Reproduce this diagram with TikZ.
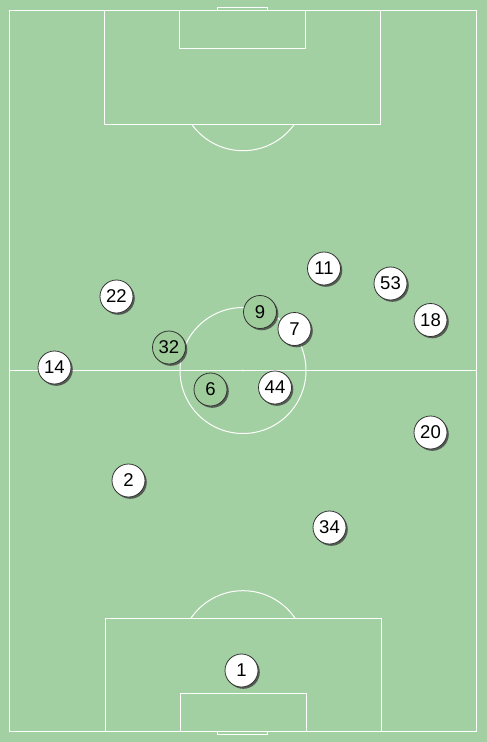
\documentclass[tikz,border=0pt]{standalone}
\usepackage{fontspec}
\setmainfont{Liberation Sans}
\usetikzlibrary{shadows}
\definecolor{pitch}{HTML}{A3D0A2}
\definecolor{teamgreen}{HTML}{9ECC9B}
\tikzset{
  fieldline/.style={draw=white, line width=1pt},
  player/.style={circle, draw=black!80, line width=0.8pt, minimum size=33pt, inner sep=0pt,
    font=\fontsize{18.5}{18.5}\selectfont,
    drop shadow={shadow xshift=1.8pt, shadow yshift=-1.8pt, opacity=0.8, fill=black!75}},
  whiteplayer/.style={player, fill=white},
  greenplayer/.style={player, fill=teamgreen}
}
\begin{document}
\begin{tikzpicture}[x=1pt, y=-1pt]
\useasboundingbox (0,0) rectangle (487,742);
\fill[pitch] (0,0) rectangle (487,742);
% outer field
\draw[fieldline] (9.5,10.5) rectangle (476.5,731);
% halfway line
\draw[fieldline] (9.5,370.5) -- (476.5,370.5);
% centre circle
\draw[fieldline] (243,370.5) circle (63);
\fill[white] (243,370.5) circle (1.2);
% top
\draw[fieldline] (217.5,10.5) -- (217.5,7.5) -- (267.5,7.5) -- (267.5,10.5);
\draw[fieldline] (104.5,10.5) rectangle (380.5,124.5);
\draw[fieldline] (179.5,10.5) rectangle (305.5,48.5);
\begin{scope}
\clip (0,124.5) rectangle (487,200);
\draw[fieldline] (243,87.7) circle (63);
\end{scope}
% bottom
\draw[fieldline] (217.5,731) -- (217.5,734.5) -- (267.5,734.5) -- (267.5,731);
\draw[fieldline] (105.5,618.5) rectangle (381.5,731);
\draw[fieldline] (180.5,693.5) rectangle (306.5,731);
\begin{scope}
\clip (0,540) rectangle (487,618.5);
\draw[fieldline] (243,653.7) circle (63);
\end{scope}
% players
\node[greenplayer] (p9) at (260,312) {9};
\node[whiteplayer] (p7) at (294.5,329) {7};
\node[whiteplayer] (p11) at (324,268.5) {11};
\node[whiteplayer] (p53) at (390.5,283.5) {53};
\node[whiteplayer] (p18) at (430.5,320) {18};
\node[whiteplayer] (p22) at (116.5,296.5) {22};
\node[greenplayer] (p32) at (169,347.5) {32};
\node[whiteplayer] (p14) at (54.5,367.5) {14};
\node[greenplayer] (p6) at (210.5,389.5) {6};
\node[whiteplayer] (p44) at (275,387.5) {44};
\node[whiteplayer] (p20) at (430.5,432.5) {20};
\node[whiteplayer] (p2) at (128.5,480.5) {2};
\node[whiteplayer] (p34) at (329.5,527.5) {34};
\node[whiteplayer] (p1) at (241.5,670.5) {1};
\end{tikzpicture}
\end{document}
